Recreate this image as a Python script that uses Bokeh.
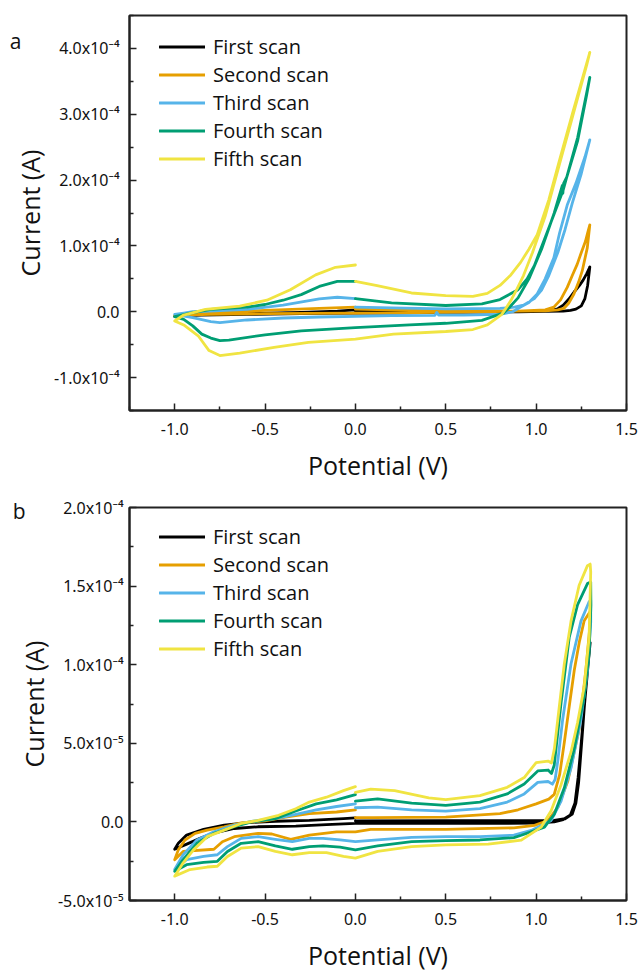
from bokeh.plotting import figure
from bokeh.layouts import column
from bokeh.models import FixedTicker, Legend, LegendItem, Range1d, LinearAxis
from bokeh.embed import file_html
from bokeh.resources import INLINE

# ---------------- data ----------------
scan_names = ["First scan", "Second scan", "Third scan", "Fourth scan", "Fifth scan"]
scan_colors = ["#000000", "#E69F00", "#56B4E9", "#009E73", "#F0E442"]

# Panel a: (potential V, current in 1e-4 A)
a_unit = 1e-4
a_first = [(0.0, 0.01), (0.3, 0.0), (0.6, 0.0), (0.9, 0.0), (1.05, 0.005), (1.15, 0.01), (1.19, 0.02),
           (1.22, 0.04), (1.25, 0.09), (1.27, 0.2), (1.285, 0.4), (1.297, 0.68), (1.28, 0.58), (1.26, 0.48),
           (1.24, 0.4), (1.21, 0.3), (1.18, 0.19), (1.15, 0.1), (1.12, 0.045), (1.08, 0.02), (1.0, 0.01),
           (0.8, 0.0), (0.5, -0.01), (0.2, -0.02), (0.0, -0.02), (-0.3, -0.03), (-0.6, -0.04), (-0.85, -0.05),
           (-0.95, -0.06), (-1.0, -0.07), (-0.97, -0.06), (-0.9, -0.05), (-0.7, -0.03), (-0.5, -0.02),
           (-0.3, -0.01), (-0.1, 0.01), (0.0, 0.03)]
a_second = [(0.0, 0.04), (0.3, 0.02), (0.6, 0.015), (0.9, 0.01), (1.05, 0.015), (1.12, 0.03), (1.153, 0.05),
            (1.18, 0.13), (1.209, 0.27), (1.235, 0.45), (1.255, 0.62), (1.283, 0.97), (1.297, 1.32),
            (1.285, 1.2), (1.273, 1.07), (1.25, 0.9), (1.227, 0.72), (1.2, 0.55), (1.172, 0.37), (1.135, 0.18),
            (1.098, 0.07), (1.05, 0.03), (0.9, 0.01), (0.5, -0.01), (0.0, -0.02), (-0.5, -0.03), (-0.8, -0.04),
            (-0.95, -0.05), (-1.0, -0.06), (-0.97, -0.04), (-0.9, -0.02), (-0.7, 0.0), (-0.5, 0.02),
            (-0.2, 0.05), (0.0, 0.07)]
a_third = [(0.0, 0.07), (0.2, 0.06), (0.5, 0.045), (0.8, 0.05), (0.88, 0.07), (0.93, 0.1), (0.99, 0.2),
           (1.03, 0.33), (1.07, 0.55), (1.12, 0.9), (1.16, 1.25), (1.2, 1.65), (1.25, 2.1), (1.297, 2.61),
           (1.27, 2.35), (1.22, 1.95), (1.172, 1.62), (1.13, 1.2), (1.098, 0.82), (1.05, 0.5), (1.006, 0.27),
           (0.96, 0.14), (0.914, 0.07), (0.87, 0.0), (0.8, -0.04), (0.6, -0.05), (0.46, -0.05), (0.45, -0.01),
           (0.44, -0.055), (0.2, -0.06), (0.0, -0.07), (-0.2, -0.08), (-0.4, -0.095), (-0.6, -0.125),
           (-0.75, -0.165), (-0.8, -0.15), (-0.9, -0.09), (-1.0, -0.04), (-0.95, -0.02), (-0.9, 0.0),
           (-0.6, 0.035), (-0.4, 0.1), (-0.2, 0.195), (-0.1, 0.22), (0.0, 0.2)]
a_fourth = [(0.0, 0.2), (0.2, 0.135), (0.5, 0.095), (0.7, 0.12), (0.8, 0.185), (0.9, 0.335), (0.95, 0.5),
            (0.99, 0.7), (1.06, 1.2), (1.15, 1.85), (1.23, 2.65), (1.297, 3.56), (1.28, 3.3), (1.23, 2.6),
            (1.17, 2.05), (1.152, 1.95), (1.148, 1.8), (1.145, 1.92), (1.1, 1.5), (1.03, 0.95), (0.96, 0.5),
            (0.9, 0.21), (0.85, 0.06), (0.82, -0.02), (0.78, -0.055), (0.7, -0.13), (0.5, -0.175), (0.3, -0.2),
            (0.0, -0.24), (-0.3, -0.29), (-0.5, -0.35), (-0.7, -0.43), (-0.75, -0.44), (-0.8, -0.4),
            (-0.85, -0.34), (-0.9, -0.215), (-0.95, -0.115), (-1.0, -0.075), (-0.9, -0.015), (-0.8, 0.035),
            (-0.6, 0.07), (-0.5, 0.11), (-0.4, 0.175), (-0.3, 0.26), (-0.2, 0.385), (-0.1, 0.46), (0.0, 0.46)]
a_fifth = [(0.0, 0.46), (0.12, 0.395), (0.31, 0.285), (0.5, 0.245), (0.65, 0.235), (0.73, 0.28), (0.8, 0.4),
           (0.86, 0.56), (0.914, 0.75), (0.96, 0.95), (1.006, 1.17), (1.07, 1.7), (1.126, 2.27), (1.2, 3.0),
           (1.297, 3.94), (1.28, 3.75), (1.2, 2.95), (1.13, 2.25), (1.05, 1.45), (0.98, 0.9), (0.93, 0.55),
           (0.895, 0.35), (0.86, 0.17), (0.84, 0.085), (0.81, -0.04), (0.78, -0.1), (0.73, -0.2), (0.65, -0.27),
           (0.5, -0.3), (0.21, -0.34), (0.0, -0.415), (-0.26, -0.465), (-0.45, -0.54), (-0.64, -0.63),
           (-0.75, -0.665), (-0.81, -0.59), (-0.87, -0.365), (-0.95, -0.2), (-1.0, -0.14), (-0.95, -0.05),
           (-0.83, 0.035), (-0.64, 0.085), (-0.49, 0.175), (-0.36, 0.335), (-0.22, 0.56), (-0.11, 0.675),
           (0.0, 0.71)]

# Panel b: (potential V, current in 1e-5 A)
b_unit = 1e-5
b_first = [(0.0, 0.06), (0.5, 0.08), (1.0, 0.08), (1.1, 0.1), (1.16, 0.2), (1.2, 0.5), (1.22, 1.2), (1.235, 2.5),
           (1.255, 5.5), (1.275, 8.6), (1.299, 11.4), (1.29, 10.3), (1.268, 7.5), (1.248, 4.8), (1.232, 2.8),
           (1.215, 1.2), (1.19, 0.45), (1.15, 0.15), (1.1, 0.0), (1.0, -0.08), (0.5, -0.1), (0.0, -0.1),
           (-0.16, -0.17), (-0.33, -0.27), (-0.54, -0.31), (-0.67, -0.42), (-0.78, -0.7), (-0.86, -1.05),
           (-0.93, -1.4), (-1.0, -1.74), (-0.98, -1.36), (-0.934, -0.84), (-0.84, -0.48), (-0.726, -0.21),
           (-0.594, -0.04), (-0.443, 0.04), (-0.255, 0.1), (-0.066, 0.21), (0.0, 0.25)]
b_second = [(0.0, 0.27), (0.1, 0.27), (0.5, 0.31), (0.8, 0.52), (0.9, 0.77), (1.0, 1.15), (1.07, 1.45),
            (1.1, 1.75), (1.13, 3.0), (1.156, 5.07), (1.185, 7.5), (1.211, 9.65), (1.24, 11.5), (1.266, 12.8),
            (1.3, 13.4), (1.298, 12.5), (1.275, 9.65), (1.238, 5.9), (1.175, 2.58), (1.12, 0.92), (1.065, 0.09),
            (0.991, -0.22), (0.877, -0.38), (0.5, -0.48), (0.085, -0.48), (0.0, -0.63), (-0.104, -0.63),
            (-0.255, -0.84), (-0.358, -1.11), (-0.462, -0.77), (-0.538, -0.73), (-0.67, -0.94), (-0.736, -1.26),
            (-0.783, -1.74), (-0.953, -1.88), (-1.0, -2.41), (-0.98, -1.78), (-0.943, -1.15), (-0.887, -0.73),
            (-0.82, -0.52), (-0.726, -0.31), (-0.632, -0.06), (-0.5, 0.06), (-0.387, 0.31), (-0.255, 0.52),
            (-0.104, 0.63), (0.0, 0.77)]
b_third = [(0.0, 0.9), (0.123, 0.94), (0.311, 0.77), (0.5, 0.69), (0.689, 0.84), (0.84, 1.26), (0.934, 1.78),
           (1.009, 2.51), (1.066, 2.57), (1.09, 2.4), (1.105, 2.7), (1.12, 3.9), (1.147, 6.53), (1.193, 10.06),
           (1.248, 12.77), (1.293, 14.0), (1.302, 14.1), (1.302, 12.7), (1.284, 9.65), (1.248, 6.53),
           (1.193, 3.42), (1.138, 1.33), (1.083, 0.09), (0.973, -0.54), (0.877, -0.84), (0.689, -0.94),
           (0.5, -0.94), (0.311, -0.98), (0.123, -1.15), (0.0, -1.26), (-0.085, -1.15), (-0.179, -1.05),
           (-0.255, -1.05), (-0.349, -1.26), (-0.443, -1.11), (-0.538, -0.94), (-0.632, -1.05), (-0.708, -1.57),
           (-0.764, -2.09), (-0.84, -2.2), (-0.934, -2.4), (-1.0, -3.03), (-0.953, -2.09), (-0.877, -1.15),
           (-0.783, -0.63), (-0.67, -0.21), (-0.575, 0.04), (-0.443, 0.21), (-0.33, 0.48), (-0.217, 0.77),
           (-0.104, 0.98), (0.0, 1.15)]
b_fourth = [(0.0, 1.32), (0.123, 1.46), (0.311, 1.19), (0.5, 1.05), (0.689, 1.26), (0.84, 1.78), (0.934, 2.41),
            (1.009, 3.24), (1.066, 3.3), (1.085, 3.08), (1.1, 3.6), (1.138, 7.57), (1.183, 11.73),
            (1.229, 13.8), (1.284, 15.16), (1.302, 15.26), (1.303, 13.8), (1.293, 10.7), (1.266, 8.0),
            (1.211, 4.66), (1.156, 2.17), (1.101, 0.5), (1.046, -0.33), (0.918, -0.85), (0.877, -1.0),
            (0.689, -1.15), (0.5, -1.19), (0.311, -1.26), (0.123, -1.53), (0.0, -1.78), (-0.085, -1.61),
            (-0.179, -1.53), (-0.255, -1.57), (-0.349, -1.74), (-0.443, -1.53), (-0.538, -1.26), (-0.632, -1.36),
            (-0.708, -1.88), (-0.764, -2.51), (-0.84, -2.57), (-0.934, -2.72), (-1.0, -3.14), (-0.953, -2.4),
            (-0.877, -1.36), (-0.783, -0.73), (-0.67, -0.31), (-0.575, 0.0), (-0.443, 0.21), (-0.33, 0.69),
            (-0.217, 1.15), (-0.104, 1.4), (0.0, 1.74)]
b_fifth = [(0.0, 1.88), (0.085, 2.09), (0.217, 1.99), (0.406, 1.53), (0.5, 1.42), (0.689, 1.67), (0.84, 2.2),
           (0.934, 2.82), (1.0, 3.77), (1.066, 3.87), (1.085, 3.75), (1.101, 4.66), (1.12, 6.53), (1.156, 10.06),
           (1.193, 12.77), (1.238, 15.05), (1.284, 16.3), (1.299, 16.4), (1.302, 15.9), (1.293, 11.7),
           (1.266, 8.6), (1.229, 6.3), (1.193, 4.45), (1.138, 2.37), (1.083, 0.71), (1.028, -0.33),
           (0.918, -1.16), (0.735, -1.42), (0.5, -1.46), (0.311, -1.57), (0.123, -1.88), (0.0, -2.3),
           (-0.066, -2.2), (-0.16, -1.95), (-0.255, -1.95), (-0.349, -2.09), (-0.443, -1.88), (-0.538, -1.57),
           (-0.632, -1.67), (-0.708, -2.2), (-0.764, -2.82), (-0.82, -2.87), (-0.915, -3.03), (-1.0, -3.45),
           (-0.953, -2.6), (-0.896, -1.78), (-0.82, -0.94), (-0.726, -0.52), (-0.632, -0.1), (-0.538, 0.1),
           (-0.425, 0.42), (-0.33, 0.84), (-0.255, 1.26), (-0.16, 1.57), (-0.066, 1.99), (0.0, 2.24)]

# Axis ticks
x_ticks = [-1.0, -0.5, 0.0, 0.5, 1.0, 1.5]
x_minor = [-1.25, -0.75, -0.25, 0.25, 0.75, 1.25]
x_labels = ["-1.0", "-0.5", "0.0", "0.5", "1.0", "1.5"]

a_y_ticks = [-1e-4, 0.0, 1e-4, 2e-4, 3e-4, 4e-4]
a_y_minor = [-1.5e-4, -0.5e-4, 0.5e-4, 1.5e-4, 2.5e-4, 3.5e-4, 4.5e-4]
a_y_labels = ["-1.0x10\u207b\u2074", "0.0", "1.0x10\u207b\u2074", "2.0x10\u207b\u2074",
              "3.0x10\u207b\u2074", "4.0x10\u207b\u2074"]

b_y_ticks = [-5e-5, 0.0, 5e-5, 1e-4, 1.5e-4, 2e-4]
b_y_minor = [-2.5e-5, 2.5e-5, 7.5e-5, 1.25e-4, 1.75e-4]
b_y_labels = ["-5.0x10\u207b\u2075", "0.0", "5.0x10\u207b\u2075", "1.0x10\u207b\u2074",
              "1.5x10\u207b\u2074", "2.0x10\u207b\u2074"]

# panel letters: (letter, current level at which it sits)
a_letter = ("a", 4.12e-4)
b_letter = ("b", 1.98e-4)

AXIS_FONT = "Open Sans"
TICK_FONT = "Noto Sans"
INK = "#222222"


def make_panel(letter, scans, unit, y_range, y_ticks, y_minor, y_labels,
               height, b_left, b_top, b_bottom, ytick_standoff):
    p = figure(width=640, height=height, output_backend="svg", toolbar_location=None,
               x_range=Range1d(-1.25, 1.5), y_range=Range1d(*y_range),
               min_border_left=b_left, min_border_right=14,
               min_border_top=b_top, min_border_bottom=b_bottom)
    p.grid.visible = False
    p.background_fill_color = "white"
    p.border_fill_color = "white"
    p.outline_line_color = INK
    p.outline_line_width = 2
    p.outline_line_alpha = 1.0

    p.xaxis.ticker = FixedTicker(ticks=x_ticks, minor_ticks=x_minor)
    p.xaxis.major_label_overrides = {t: s for t, s in zip(x_ticks, x_labels)}
    p.yaxis.ticker = FixedTicker(ticks=y_ticks, minor_ticks=y_minor)
    p.yaxis.major_label_overrides = {t: s for t, s in zip(y_ticks, y_labels)}

    for ax in (p.xaxis, p.yaxis):
        ax.axis_line_color = INK
        ax.axis_line_width = 2
        ax.major_tick_line_color = INK
        ax.minor_tick_line_color = INK
        ax.major_tick_line_width = 1.5
        ax.minor_tick_line_width = 1.5
        ax.major_tick_in = 7
        ax.major_tick_out = 0
        ax.minor_tick_in = 4
        ax.minor_tick_out = 0
        ax.major_label_text_font = TICK_FONT
        ax.major_label_text_font_size = "16px"
        ax.major_label_text_color = "#111111"
        ax.axis_label_text_font = AXIS_FONT
        ax.axis_label_text_font_size = "25px"
        ax.axis_label_text_font_style = "normal"
        ax.axis_label_text_color = "#111111"
    p.xaxis.major_label_standoff = 12
    p.yaxis.major_label_standoff = ytick_standoff
    p.xaxis.axis_label = "Potential (V)"
    p.yaxis.axis_label = "Current (A)"
    p.xaxis.axis_label_standoff = 10
    p.yaxis.axis_label_standoff = 4

    items = []
    for name, color, data in zip(scan_names, scan_colors, scans):
        xs = [v for v, _ in data]
        ys = [c * unit for _, c in data]
        r = p.line(xs, ys, line_color=color, line_width=2.8, line_join="round", line_cap="round")
        items.append(LegendItem(label=name, renderers=[r]))

    legend = Legend(items=items, location=(30, 238))
    legend.label_text_font = AXIS_FONT
    legend.label_text_font_size = "20px"
    legend.label_text_color = "#111111"
    legend.glyph_width = 46
    legend.glyph_height = 27
    legend.label_height = 27
    legend.label_standoff = 8
    legend.spacing = 1
    legend.padding = 0
    legend.margin = 0
    legend.border_line_alpha = 0
    legend.background_fill_alpha = 0
    p.add_layout(legend)

    # panel letter drawn as the single label of an invisible outer left axis
    txt, ly = letter
    lax = LinearAxis(ticker=FixedTicker(ticks=[ly], minor_ticks=[]),
                     major_label_overrides={ly: txt})
    lax.axis_line_alpha = 0
    lax.major_tick_line_alpha = 0
    lax.minor_tick_line_alpha = 0
    lax.major_tick_in = 0
    lax.major_tick_out = 0
    lax.minor_tick_in = 0
    lax.minor_tick_out = 0
    lax.major_label_standoff = -12
    lax.major_label_text_font = AXIS_FONT
    lax.major_label_text_font_size = "21px"
    lax.major_label_text_color = "#111111"
    p.add_layout(lax, "left")
    return p


pa = make_panel(a_letter, [a_first, a_second, a_third, a_fourth, a_fifth], a_unit,
                (-1.5e-4, 4.5e-4), a_y_ticks, a_y_minor, a_y_labels,
                height=484, b_left=129, b_top=15, b_bottom=69, ytick_standoff=10)
pb = make_panel(b_letter, [b_first, b_second, b_third, b_fourth, b_fifth], b_unit,
                (-5e-5, 2e-4), b_y_ticks, b_y_minor, b_y_labels,
                height=490, b_left=125, b_top=23, b_bottom=66, ytick_standoff=6)

layout = column(pa, pb, spacing=0)
open("out.html", "w").write(file_html(layout, INLINE))
